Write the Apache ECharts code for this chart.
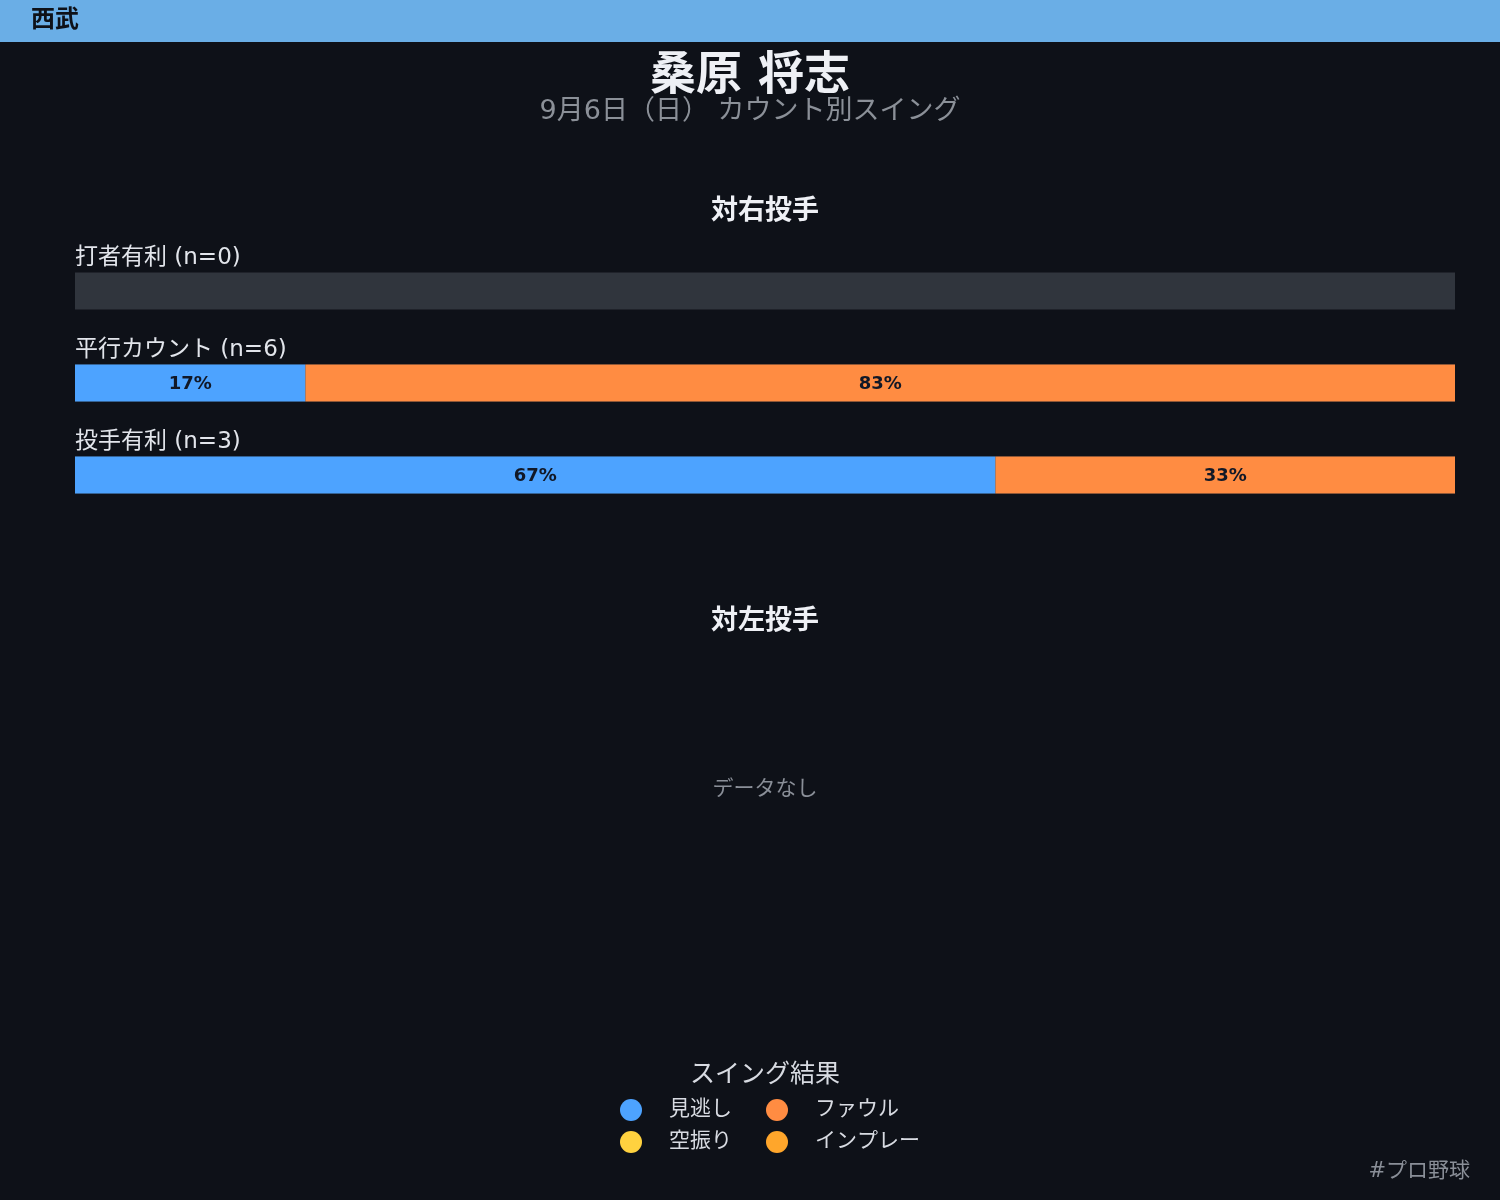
<!DOCTYPE html>
<html>
<head>
<meta charset="utf-8">
<script src="https://cdn.jsdelivr.net/npm/echarts@6/dist/echarts.min.js"></script>
<style>
  html, body { margin: 0; padding: 0; background: #0e1118; }
  #main { width: 1500px; height: 1200px; }
</style>
</head>
<body>
<div id="main"></div>
<script>
// 対右投手 カウント別 (割合 %)
var categories = ['打者有利 (n=0)', '平行カウント (n=6)', '投手有利 (n=3)'];
var seriesNames = ['見逃し', '空振り', 'ファウル', 'インプレー'];
var minogashi = [0, 16.7, 66.7];
var karaburi = [0, 0, 0];
var foul = [0, 83.3, 33.3];
var inplay = [0, 0, 0];
var colors = ['#4da3ff', '#ffd23f', '#ff8c42', '#ffa62b'];

var FONT = "'DejaVu Sans', 'Noto Sans CJK JP', sans-serif";

function barSeries(name, data, color, idx) {
    return {
        name: name,
        type: 'bar',
        stack: 'total',
        barWidth: 37,
        data: data,
        itemStyle: { color: color },
        showBackground: idx === 0,
        backgroundStyle: { color: '#30353d' },
        label: {
            show: true,
            position: 'inside',
            color: '#111827',
            fontFamily: FONT,
            fontWeight: 'bold',
            fontSize: 18,
            offset: [0, 1],
            formatter: function (p) {
                return p.value > 0 ? Math.round(p.value) + '%' : '';
            }
        }
    };
}

function legendAt(name, left, top) {
    return {
        data: [name],
        left: left,
        top: top,
        icon: 'circle',
        itemWidth: 66,
        itemHeight: 22,
        selectedMode: false,
        textStyle: { color: '#d8dbe2', fontSize: 21, fontFamily: FONT }
    };
}

var option = {
    backgroundColor: '#0e1118',
    animation: false,
    graphic: [
        { type: 'rect', shape: { x: 0, y: 0, width: 1500, height: 42 }, style: { fill: '#6aaee6' } },
        { type: 'text', x: 31, y: 21, style: { text: '西武', fill: '#0e1118', font: 'bold 24px ' + FONT, verticalAlign: 'middle' } },
        { type: 'text', x: 750, y: 77, style: { text: '桑原 将志', fill: '#eef0f5', font: 'bold 46px ' + FONT, align: 'center', verticalAlign: 'middle' } },
        { type: 'text', x: 750, y: 112, style: { text: '9月6日（日） カウント別スイング', fill: '#8b9098', font: '27px ' + FONT, align: 'center', verticalAlign: 'middle' } },
        { type: 'text', x: 765, y: 212, style: { text: '対右投手', fill: '#eef0f5', font: 'bold 27px ' + FONT, align: 'center', verticalAlign: 'middle' } },
        { type: 'text', x: 765, y: 622, style: { text: '対左投手', fill: '#eef0f5', font: 'bold 27px ' + FONT, align: 'center', verticalAlign: 'middle' } },
        { type: 'text', x: 765, y: 790, style: { text: 'データなし', fill: '#8a8f98', font: '21px ' + FONT, align: 'center', verticalAlign: 'middle' } },
        { type: 'text', x: 765, y: 1075, style: { text: 'スイング結果', fill: '#d8dbe2', font: '25px ' + FONT, align: 'center', verticalAlign: 'middle' } },
        { type: 'text', x: 1470, y: 1172, style: { text: '#プロ野球', fill: '#8a8f98', font: '21px ' + FONT, align: 'right', verticalAlign: 'middle' } }
    ],
    legend: [
        legendAt('見逃し', 615, 1094),
        legendAt('ファウル', 761, 1094),
        legendAt('空振り', 615, 1126),
        legendAt('インプレー', 761, 1126)
    ],
    grid: { left: 75, right: 45, top: 245, height: 276 },
    xAxis: {
        type: 'value',
        min: 0,
        max: 100,
        show: false
    },
    yAxis: {
        type: 'category',
        inverse: true,
        data: categories,
        axisLine: { show: false },
        axisTick: { show: false },
        axisLabel: {
            inside: true,
            margin: 0,
            color: '#e2e5eb',
            fontSize: 23,
            fontFamily: FONT,
            verticalAlign: 'bottom',
            padding: [0, 0, 21, 0]
        },
        z: 10
    },
    series: [
        barSeries(seriesNames[0], minogashi, colors[0], 0),
        barSeries(seriesNames[1], karaburi, colors[1], 1),
        barSeries(seriesNames[2], foul, colors[2], 2),
        barSeries(seriesNames[3], inplay, colors[3], 3)
    ]
};

var myChart = echarts.init(document.getElementById('main'));
myChart.setOption(option);
</script>
</body>
</html>
